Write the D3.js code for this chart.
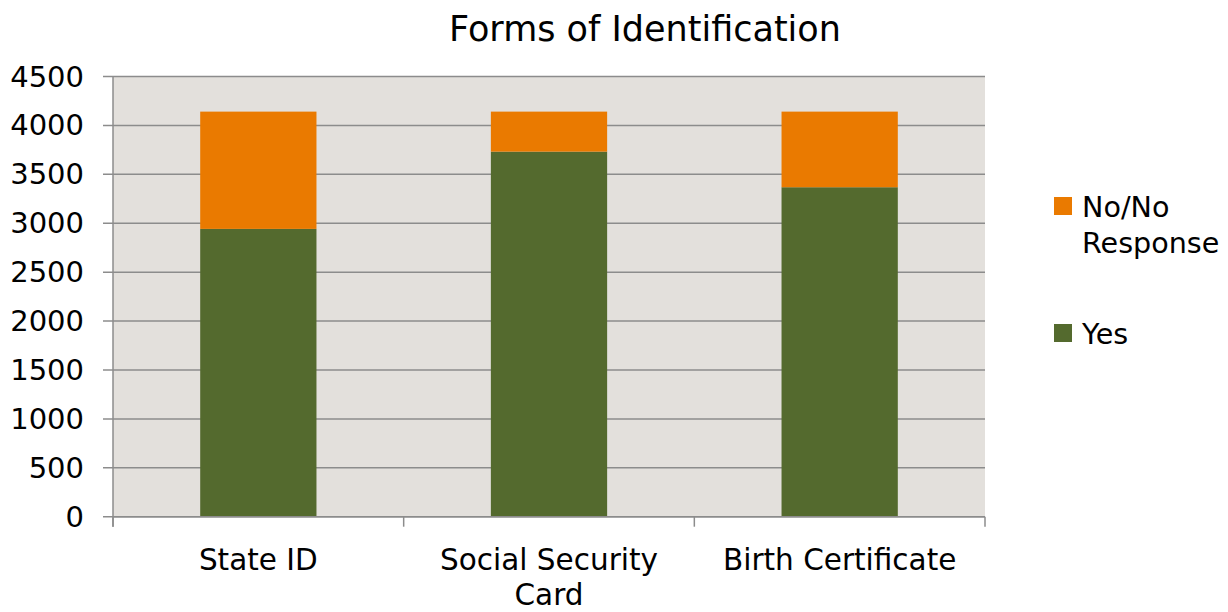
<!DOCTYPE html>
<html>
<head>
<meta charset="utf-8">
<script src="https://cdn.jsdelivr.net/npm/d3@7"></script>
<style>
  html, body { margin: 0; padding: 0; background: #fff; }
  svg { display: block; font-family: "DejaVu Sans", "Liberation Sans", Arial, sans-serif; }
</style>
</head>
<body>
<svg id="chart" width="1228" height="612"></svg>
<script>
// Survey counts per form of identification
const categories = ["State ID", "Social Security Card", "Birth Certificate"];
const categoryLines = [["State ID"], ["Social Security", "Card"], ["Birth Certificate"]];
const yesValues = [2942, 3732, 3368];
const noValues = [1199, 409, 773];
const seriesNames = ["Yes", "No/No Response"];
const yTicks = [0, 500, 1000, 1500, 2000, 2500, 3000, 3500, 4000, 4500];

const colors = { "Yes": "#546a2e", "No/No Response": "#ea7a00" };

const svg = d3.select("#chart");
const plotLeft = 113, plotRight = 985, plotTop = 76.5, plotBottom = 516.7;
const axisColor = "#8c8c8c";

const x = d3.scaleBand().domain(categories).range([plotLeft, plotRight]).paddingInner(0).paddingOuter(0);
const y = d3.scaleLinear().domain([0, 4500]).range([plotBottom, plotTop]);

// plot background
svg.append("rect")
  .attr("x", plotLeft).attr("y", plotTop)
  .attr("width", plotRight - plotLeft).attr("height", plotBottom - plotTop)
  .attr("fill", "#e3e0dc");

// gridlines with outside tick marks
svg.append("g").selectAll("line").data(yTicks).join("line")
  .attr("x1", plotLeft - 10).attr("x2", plotRight)
  .attr("y1", d => y(d)).attr("y2", d => y(d))
  .attr("stroke", axisColor).attr("stroke-width", 1.5);

// y labels
svg.append("g").selectAll("text").data(yTicks).join("text")
  .attr("x", 84).attr("y", d => y(d) + 10)
  .attr("text-anchor", "end")
  .attr("font-size", 29).attr("fill", "#000")
  .text(d => d);

// stacked bars
const rows = categories.map((c, i) => ({ cat: c, "Yes": yesValues[i], "No/No Response": noValues[i] }));
const stacked = d3.stack().keys(seriesNames)(rows);
const barW = x.bandwidth() * 0.4;

svg.append("g").selectAll("g").data(stacked).join("g")
  .attr("fill", d => colors[d.key])
  .selectAll("rect").data(d => d).join("rect")
  .attr("x", d => x(d.data.cat) + (x.bandwidth() - barW) / 2)
  .attr("width", barW)
  .attr("y", d => y(d[1]))
  .attr("height", d => y(d[0]) - y(d[1]));

// axis lines
svg.append("line")
  .attr("x1", plotLeft).attr("x2", plotLeft).attr("y1", plotTop).attr("y2", plotBottom + 10)
  .attr("stroke", axisColor).attr("stroke-width", 1.5);
svg.append("line")
  .attr("x1", plotLeft).attr("x2", plotRight).attr("y1", plotBottom).attr("y2", plotBottom)
  .attr("stroke", axisColor).attr("stroke-width", 1.5);

// category boundary ticks
const boundaries = categories.map(c => x(c)).concat([plotRight]);
svg.append("g").selectAll("line").data(boundaries).join("line")
  .attr("x1", d => d).attr("x2", d => d)
  .attr("y1", plotBottom).attr("y2", plotBottom + 10)
  .attr("stroke", axisColor).attr("stroke-width", 1.5);

// category labels
svg.append("g").selectAll("text").data(categories).join("text")
  .attr("text-anchor", "middle")
  .attr("font-size", 29.5).attr("fill", "#000")
  .attr("transform", d => `translate(${x(d) + x.bandwidth() / 2},570)`)
  .each(function(d, i) {
    d3.select(this).selectAll("tspan").data(categoryLines[i]).join("tspan")
      .attr("x", 0).attr("dy", (t, j) => j === 0 ? 0 : 35)
      .text(t => t);
  });

// title
svg.append("text")
  .attr("x", 645).attr("y", 41)
  .attr("text-anchor", "middle")
  .attr("font-size", 35).attr("fill", "#000")
  .text("Forms of Identification");

// legend
const legendItems = [
  { key: "No/No Response", lines: ["No/No", "Response"], y: 197 },
  { key: "Yes", lines: ["Yes"], y: 324 }
];
const lg = svg.append("g").selectAll("g").data(legendItems).join("g");
lg.append("rect")
  .attr("x", 1054).attr("y", d => d.y)
  .attr("width", 18).attr("height", 18)
  .attr("fill", d => colors[d.key]);
lg.append("text")
  .attr("font-size", 28.6).attr("fill", "#000")
  .attr("transform", d => `translate(1082,${d.y + 20})`)
  .each(function(d) {
    d3.select(this).selectAll("tspan").data(d.lines).join("tspan")
      .attr("x", 0).attr("dy", (t, j) => j === 0 ? 0 : 36)
      .text(t => t);
  });
</script>
</body>
</html>
